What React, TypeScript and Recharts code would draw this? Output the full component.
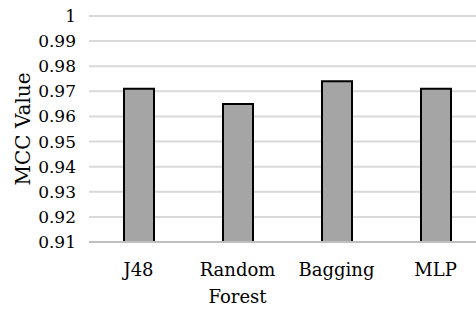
import { BarChart, Bar, XAxis, YAxis, CartesianGrid } from 'recharts';

const CATEGORIES = ['J48', 'Random Forest', 'Bagging', 'MLP'];
const MCC_VALUES = [0.971, 0.965, 0.974, 0.971];
const Y_TICKS = [0.91, 0.92, 0.93, 0.94, 0.95, 0.96, 0.97, 0.98, 0.99, 1];

// only serif face that resolves in the sandbox
const FONT = 'DejaVu Serif';

const data = CATEGORIES.map((name, i) => ({ name, mcc: MCC_VALUES[i] }));

// x labels wrap on spaces, like the original "Random / Forest"
function CategoryTick(props: any) {
  const { x, y, payload } = props;
  const words = String(payload?.value ?? '').split(' ');
  return (
    <text x={x} y={y} textAnchor="middle" fill="#000" fontSize={18} fontFamily={FONT}>
      {words.map((w: string, i: number) => (
        <tspan key={i} x={x} dy={i === 0 ? 26 : 27}>
          {w}
        </tspan>
      ))}
    </text>
  );
}

function ValueTick(props: any) {
  const { x, y, payload } = props;
  return (
    <text x={x} y={y} dy={6} textAnchor="end" fill="#000" fontSize={17} fontFamily={FONT}>
      {payload?.value}
    </text>
  );
}

function AxisTitle(props: any) {
  const vb = props.viewBox ?? { x: 0, y: 0, width: 0, height: 0 };
  const cx = vb.x + 23;
  const cy = vb.y + vb.height / 2;
  return (
    <text
      x={cx}
      y={cy}
      transform={`rotate(-90 ${cx} ${cy})`}
      textAnchor="middle"
      dominantBaseline="central"
      fill="#000"
      fontSize={20}
      fontFamily={FONT}
    >
      MCC Value
    </text>
  );
}

export default function App() {
  return (
    <div style={{ position: 'absolute', left: 0, top: 0, width: 476, height: 312, overflow: 'hidden', background: '#fff' }}>
      <BarChart width={485} height={312} data={data} margin={{ top: 16, right: 0, bottom: 0, left: 0 }}>
        <CartesianGrid vertical={false} stroke="#d9d9d9" strokeWidth={2} />
        <XAxis
          dataKey="name"
          height={70}
          tickLine={false}
          axisLine={{ stroke: '#bfbfbf', strokeWidth: 2 }}
          tick={<CategoryTick />}
          interval={0}
        />
        <YAxis
          type="number"
          domain={[0.91, 1]}
          ticks={Y_TICKS}
          interval={0}
          width={89}
          tickLine={false}
          axisLine={false}
          tickSize={0}
          tickMargin={13}
          tick={<ValueTick />}
          label={<AxisTitle />}
        />
        <Bar dataKey="mcc" fill="#a5a5a5" stroke="#000" strokeWidth={2} barSize={30} isAnimationActive={false} />
      </BarChart>
    </div>
  );
}
